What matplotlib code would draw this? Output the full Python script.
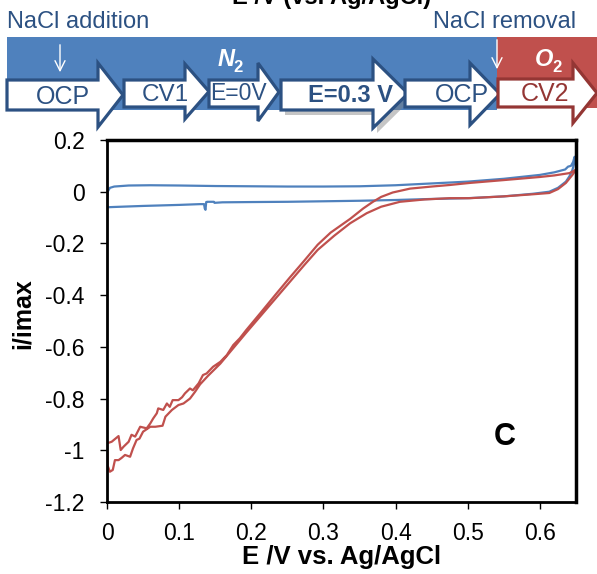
import matplotlib
matplotlib.use('Agg')
import matplotlib.pyplot as plt
from matplotlib.patches import Polygon, Rectangle

plt.rcParams['font.family'] = ['Liberation Sans', 'DejaVu Sans']

# CV in O2 (CV2), one closed loop
red_e = [0.000, 0.0065, 0.016, 0.019, 0.023, 0.030, 0.034, 0.039, 0.046, 0.055,
         0.060, 0.064, 0.069, 0.071, 0.078, 0.083, 0.087, 0.091, 0.099, 0.104,
         0.108, 0.115, 0.119, 0.127, 0.133, 0.138, 0.147, 0.157, 0.166, 0.175,
         0.184, 0.193, 0.213, 0.233, 0.253, 0.273, 0.292, 0.310, 0.337, 0.355,
         0.368, 0.380, 0.396, 0.420, 0.450, 0.475, 0.503, 0.550, 0.600, 0.620,
         0.641, 0.650,
         0.650, 0.645, 0.636, 0.625, 0.613, 0.590, 0.550, 0.503, 0.475, 0.440,
         0.406, 0.380, 0.360, 0.337, 0.315, 0.292, 0.273, 0.253, 0.233, 0.213,
         0.193, 0.175, 0.157, 0.140, 0.129, 0.122, 0.115, 0.106, 0.099, 0.090,
         0.081, 0.077, 0.067, 0.060, 0.050, 0.045, 0.041, 0.036, 0.032, 0.025,
         0.020, 0.016, 0.011, 0.008, 0.004, 0.001, 0.000]
red_i = [-0.973, -0.967, -0.945, -0.999, -0.986, -0.967, -0.940, -0.947, -0.909, -0.915,
         -0.896, -0.877, -0.857, -0.838, -0.844, -0.819, -0.832, -0.806, -0.806, -0.795,
         -0.780, -0.761, -0.768, -0.741, -0.709, -0.703, -0.677, -0.658, -0.632, -0.593,
         -0.567, -0.535, -0.468, -0.400, -0.333, -0.268, -0.205, -0.158, -0.105, -0.065,
         -0.040, -0.020, -0.003, 0.012, 0.020, 0.026, 0.034, 0.045, 0.057, 0.063,
         0.072, 0.085,
         0.085, 0.065, 0.034, 0.010, -0.005, -0.010, -0.018, -0.025, -0.025, -0.030,
         -0.039, -0.058, -0.083, -0.122, -0.170, -0.225, -0.285, -0.350, -0.415, -0.480,
         -0.545, -0.605, -0.665, -0.712, -0.745, -0.774, -0.800, -0.819, -0.825, -0.844,
         -0.870, -0.905, -0.909, -0.909, -0.928, -0.955, -0.960, -0.993, -1.025, -1.018,
         -1.030, -1.038, -1.038, -1.076, -1.083, -1.060, -0.973]

# CV in N2 (CV1)
blue_e = [0.000, 0.001, 0.004, 0.010, 0.030, 0.060, 0.100, 0.150, 0.200, 0.250,
          0.300, 0.350, 0.400, 0.450, 0.500, 0.550, 0.600, 0.620, 0.635, 0.639,
          0.643, 0.646, 0.648,
          0.649, 0.647, 0.645, 0.641, 0.636, 0.625, 0.613, 0.590, 0.550, 0.500,
          0.450, 0.400, 0.350, 0.300, 0.250, 0.200, 0.160, 0.149, 0.148, 0.139,
          0.1375, 0.1365, 0.1355, 0.1345, 0.129, 0.100, 0.050, 0.010, 0.001, 0.000]
blue_i = [-0.050, 0.000, 0.015, 0.020, 0.024, 0.025, 0.024, 0.022, 0.021, 0.020,
          0.020, 0.021, 0.025, 0.032, 0.039, 0.050, 0.065, 0.075, 0.086, 0.097,
          0.100, 0.115, 0.135,
          0.130, 0.105, 0.084, 0.060, 0.039, 0.015, 0.000, -0.008, -0.018, -0.025,
          -0.028, -0.032, -0.035, -0.037, -0.039, -0.040, -0.041, -0.043, -0.039, -0.039,
          -0.040, -0.070, -0.065, -0.048, -0.048, -0.051, -0.055, -0.059, -0.060, -0.050]

xticks = [0, 0.1, 0.2, 0.3, 0.4, 0.5, 0.6]
xtick_labels = ['0', '0.1', '0.2', '0.3', '0.4', '0.5', '0.6']
yticks = [-1.2, -1.0, -0.8, -0.6, -0.4, -0.2, 0, 0.2]
ytick_labels = ['-1.2', '-1', '-0.8', '-0.6', '-0.4', '-0.2', '0', '0.2']

BLUE = '#4F81BD'
RED = '#C0504D'
DBLUE = '#2C5182'
DRED = '#943634'

W, H = 597, 574
fig = plt.figure(figsize=(W / 100, H / 100), dpi=100)

# main plot
ax = fig.add_axes([107 / W, 72 / H, 469 / W, 362 / H])
ax.plot(blue_e, blue_i, color=BLUE, lw=1.6)
ax.plot(red_e, red_i, color=RED, lw=1.6)
ax.set_xlim(0, 0.65)
ax.set_ylim(-1.2, 0.2)
ax.set_xticks(xticks)
ax.set_xticklabels(xtick_labels)
ax.set_yticks(yticks)
ax.set_yticklabels(ytick_labels)
ax.tick_params(direction='out', length=5, width=1, labelsize=16.5, pad=11)
ax.tick_params(axis='x', pad=9.5)
for side in ['left', 'bottom']:
    ax.spines[side].set_linewidth(2)
for side in ['top', 'right']:
    ax.spines[side].set_linewidth(2.5)
ax.set_xlabel('E /V vs. Ag/AgCl', fontsize=18.5, fontweight='bold')
ax.set_ylabel('i/imax', fontsize=18, fontweight='bold')
ax.xaxis.set_label_coords(0.5, -0.118)
ax.yaxis.set_label_coords(-0.155, 0.52)
ax.text(0.551, -0.949, 'C', fontsize=22, fontweight='bold', ha='center', va='center')

# banner on top, drawn in pixel coords
bx = fig.add_axes([0, 0, 1, 1])
bx.set_xlim(0, W)
bx.set_ylim(H, 0)
bx.axis('off')
bx.patch.set_visible(False)

bx.add_patch(Rectangle((7, 37), 490, 73, color=BLUE, lw=0))
bx.add_patch(Rectangle((497, 37), 100, 71, color=RED, lw=0))

def arrow_pts(x0, x1, tip, top, bot, htop, hbot):
    yc = (htop + hbot) / 2
    return [(x0, top), (x1, top), (x1, htop), (tip, yc), (x1, hbot), (x1, bot), (x0, bot)]

# x0, head start, tip, body top, body bottom, head top, head bottom, edge colour
arrows = [
    (7, 98, 123, 80, 110, 63, 127, DBLUE),
    (124, 185, 209, 80, 107, 64, 119, DBLUE),
    (209, 258, 279, 80, 107, 63, 121, DBLUE),
    (281, 373, 408, 80, 110, 59, 128, DBLUE),
    (405, 470, 500, 80, 107, 63, 125, DBLUE),
    (498, 573, 597, 79, 107, 63, 123, DRED),
]
for i, (x0, x1, tip, top, bot, htop, hbot, ec) in enumerate(arrows):
    if i == 3:
        sh = [(px + 4, py + 5) for px, py in arrow_pts(x0, x1, tip, top, bot, htop, hbot)]
        bx.add_patch(Polygon(sh, closed=True, color='#7f7f7f', alpha=0.45, lw=0))
    bx.add_patch(Polygon(arrow_pts(x0, x1, tip, top, bot, htop, hbot), closed=True,
                         facecolor='white', edgecolor=ec, lw=2.3, joinstyle='miter'))

bx.text(63, 97, 'OCP', fontsize=18, color=DBLUE, ha='center', va='center')
bx.text(165, 95, 'CV1', fontsize=17.5, color=DBLUE, ha='center', va='center')
bx.text(238, 93, 'E=0V', fontsize=16.5, color=DBLUE, ha='center', va='center')
bx.text(350, 95, 'E=0.3 V', fontsize=17, fontweight='bold', color=DBLUE, ha='center', va='center')
bx.text(462, 95, 'OCP', fontsize=18, color=DBLUE, ha='center', va='center')
bx.text(545, 94, 'CV2', fontsize=18, color=DRED, ha='center', va='center')

# gas labels
bx.text(226, 59, 'N', fontsize=17, fontweight='bold', fontstyle='italic', color='white',
        ha='center', va='center')
bx.text(238, 67, '2', fontsize=12, fontweight='bold', color='white', ha='center', va='center')
bx.text(544, 59, 'O', fontsize=17, fontweight='bold', fontstyle='italic', color='white',
        ha='center', va='center')
bx.text(557, 67, '2', fontsize=12, fontweight='bold', color='white', ha='center', va='center')

# NaCl steps
bx.text(7, 28, 'NaCl addition', fontsize=17, color='#2C5182', ha='left', va='baseline')
bx.text(576, 28, 'NaCl removal', fontsize=17, color='#2C5182', ha='right', va='baseline')
bx.annotate('', xy=(60, 75), xytext=(60, 42),
            arrowprops=dict(arrowstyle='->', color='white', lw=1, mutation_scale=18))
bx.annotate('', xy=(497, 72), xytext=(497, 37),
            arrowprops=dict(arrowstyle='->', color='white', lw=1, mutation_scale=18))

# clipped title at the very top
bx.text(332, 4, 'E /V (vs. Ag/AgCl)', fontsize=17, fontweight='bold', ha='center', va='baseline')

fig.savefig('out.png', dpi=100)
